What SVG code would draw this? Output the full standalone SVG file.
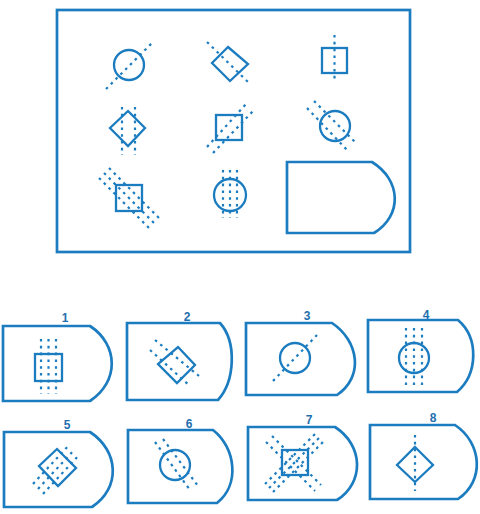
<svg xmlns="http://www.w3.org/2000/svg" width="480" height="514" viewBox="0 0 480 514">
<style>
.s{fill:none;stroke:#1c7cc0;stroke-width:2.3;stroke-linejoin:miter}
.f{fill:none;stroke:#1c7cc0;stroke-width:2.7}
.d{fill:none;stroke:#1c7cc0;stroke-width:2.2;stroke-dasharray:2.6 4.2}
.l{font-family:"Liberation Sans",Arial,sans-serif;font-weight:bold;font-size:12px;fill:#1f6fae;text-anchor:middle}
</style>
<rect width="480" height="514" fill="#ffffff"/>
<g id="matrix">
<rect x="57" y="10" width="353" height="242" class="f" stroke-width="3"/>
<g id="m11"><circle cx="129" cy="65" r="15" class="s"/><line x1="106" y1="89" x2="154" y2="41" class="d"/></g>
<g id="m12"><polygon points="228,47 248,64 230,81 212,63" class="s"/><line x1="207" y1="42" x2="250" y2="84" class="d"/></g>
<g id="m13"><rect x="322" y="48" width="25" height="25" class="s"/><line x1="334.5" y1="35" x2="334.5" y2="82" class="d"/></g>
<g id="m21"><polygon points="128,111 145,128 128,146 110,128" class="s"/><line x1="122" y1="107" x2="122" y2="155" class="d"/><line x1="135" y1="107" x2="135" y2="155" class="d"/></g>
<g id="m22"><rect x="216" y="115" width="26" height="25" class="s"/><line x1="207" y1="147" x2="247" y2="103" class="d"/><line x1="213" y1="153" x2="254" y2="110" class="d"/></g>
<g id="m23"><circle cx="335" cy="126" r="15" class="s"/><line x1="307" y1="108" x2="348" y2="151" class="d"/><line x1="314" y1="101" x2="357" y2="144" class="d"/></g>
<g id="m31"><rect x="116" y="185" width="26" height="26" class="s"/><line x1="99" y1="178" x2="151" y2="230" class="d"/><line x1="104" y1="173" x2="156" y2="225" class="d"/><line x1="109" y1="168" x2="161" y2="220" class="d"/></g>
<g id="m32"><circle cx="230" cy="195" r="16" class="s"/><line x1="223" y1="170" x2="223" y2="218" class="d"/><line x1="230" y1="170" x2="230" y2="218" class="d"/><line x1="237" y1="170" x2="237" y2="218" class="d"/></g>
<g id="m33"><path d="M287,162 H372 C401,180 403,215 374,233 H287 Z" class="f"/></g>
</g>
<g id="opt1"><text x="65" y="322" class="l">1</text><path d="M3,326 H90 C119,345 119,382 90,401 H3 Z" class="f"/><rect x="35" y="354" width="27" height="27" class="s"/><line x1="41" y1="339" x2="41" y2="394" class="d"/><line x1="48.5" y1="339" x2="48.5" y2="394" class="d"/><line x1="56" y1="339" x2="56" y2="394" class="d"/></g>
<g id="opt2"><text x="187" y="321" class="l">2</text><path d="M127,323 H220 C237,342 235,381 218,400 H127 Z" class="f"/><polygon points="178,347 195,365 177,383 158,364" class="s"/><line x1="155" y1="340" x2="199" y2="376" class="d"/><line x1="150" y1="350" x2="190" y2="386" class="d"/></g>
<g id="opt3"><text x="307" y="320" class="l">3</text><path d="M246,323 H332 C359,341 364,377 337,395 H246 Z" class="f"/><circle cx="295" cy="358" r="15" class="s"/><line x1="273" y1="381" x2="317" y2="335" class="d"/></g>
<g id="opt4"><text x="426" y="319" class="l">4</text><path d="M368,320 H458 C479,338 478,374 457,392 H368 Z" class="f"/><circle cx="414" cy="358" r="15" class="s"/><line x1="406" y1="328" x2="406" y2="386" class="d"/><line x1="414" y1="328" x2="414" y2="386" class="d"/><line x1="422" y1="328" x2="422" y2="386" class="d"/></g>
<g id="opt5"><text x="67" y="429" class="l">5</text><path d="M4,432 H90 C119,451 121,488 92,507 H4 Z" class="f"/><polygon points="57,449 76,468 58,486 39,466" class="s"/><line x1="33" y1="484" x2="70" y2="444" class="d"/><line x1="38" y1="489" x2="75" y2="449" class="d"/><line x1="43" y1="494" x2="80" y2="454" class="d"/></g>
<g id="opt6"><text x="189" y="428" class="l">6</text><path d="M128,430 H213 C236,448 240,485 217,503 H128 Z" class="f"/><circle cx="175" cy="465" r="15" class="s"/><line x1="155" y1="442" x2="190" y2="490" class="d"/><line x1="163" y1="439" x2="198" y2="486" class="d"/></g>
<g id="opt7"><text x="309" y="424" class="l">7</text><path d="M248,427 H335 C363,445 365,482 337,500 H248 Z" class="f"/><rect x="282" y="450" width="26" height="25" class="s"/><line x1="265" y1="484" x2="317" y2="432" class="d"/><line x1="269" y1="488" x2="321" y2="436" class="d"/><line x1="273" y1="492" x2="325" y2="440" class="d"/><line x1="272" y1="436" x2="321" y2="485" class="d"/><line x1="266" y1="442" x2="315" y2="491" class="d"/></g>
<g id="opt8"><text x="433" y="422" class="l">8</text><path d="M370,425 H455 C482,443 485,481 458,499 H370 Z" class="f"/><polygon points="415,447 433,465 415,482 397,465" class="s"/><line x1="415" y1="435" x2="415" y2="491" class="d"/></g>
<g id="connectors"/>
</svg>
